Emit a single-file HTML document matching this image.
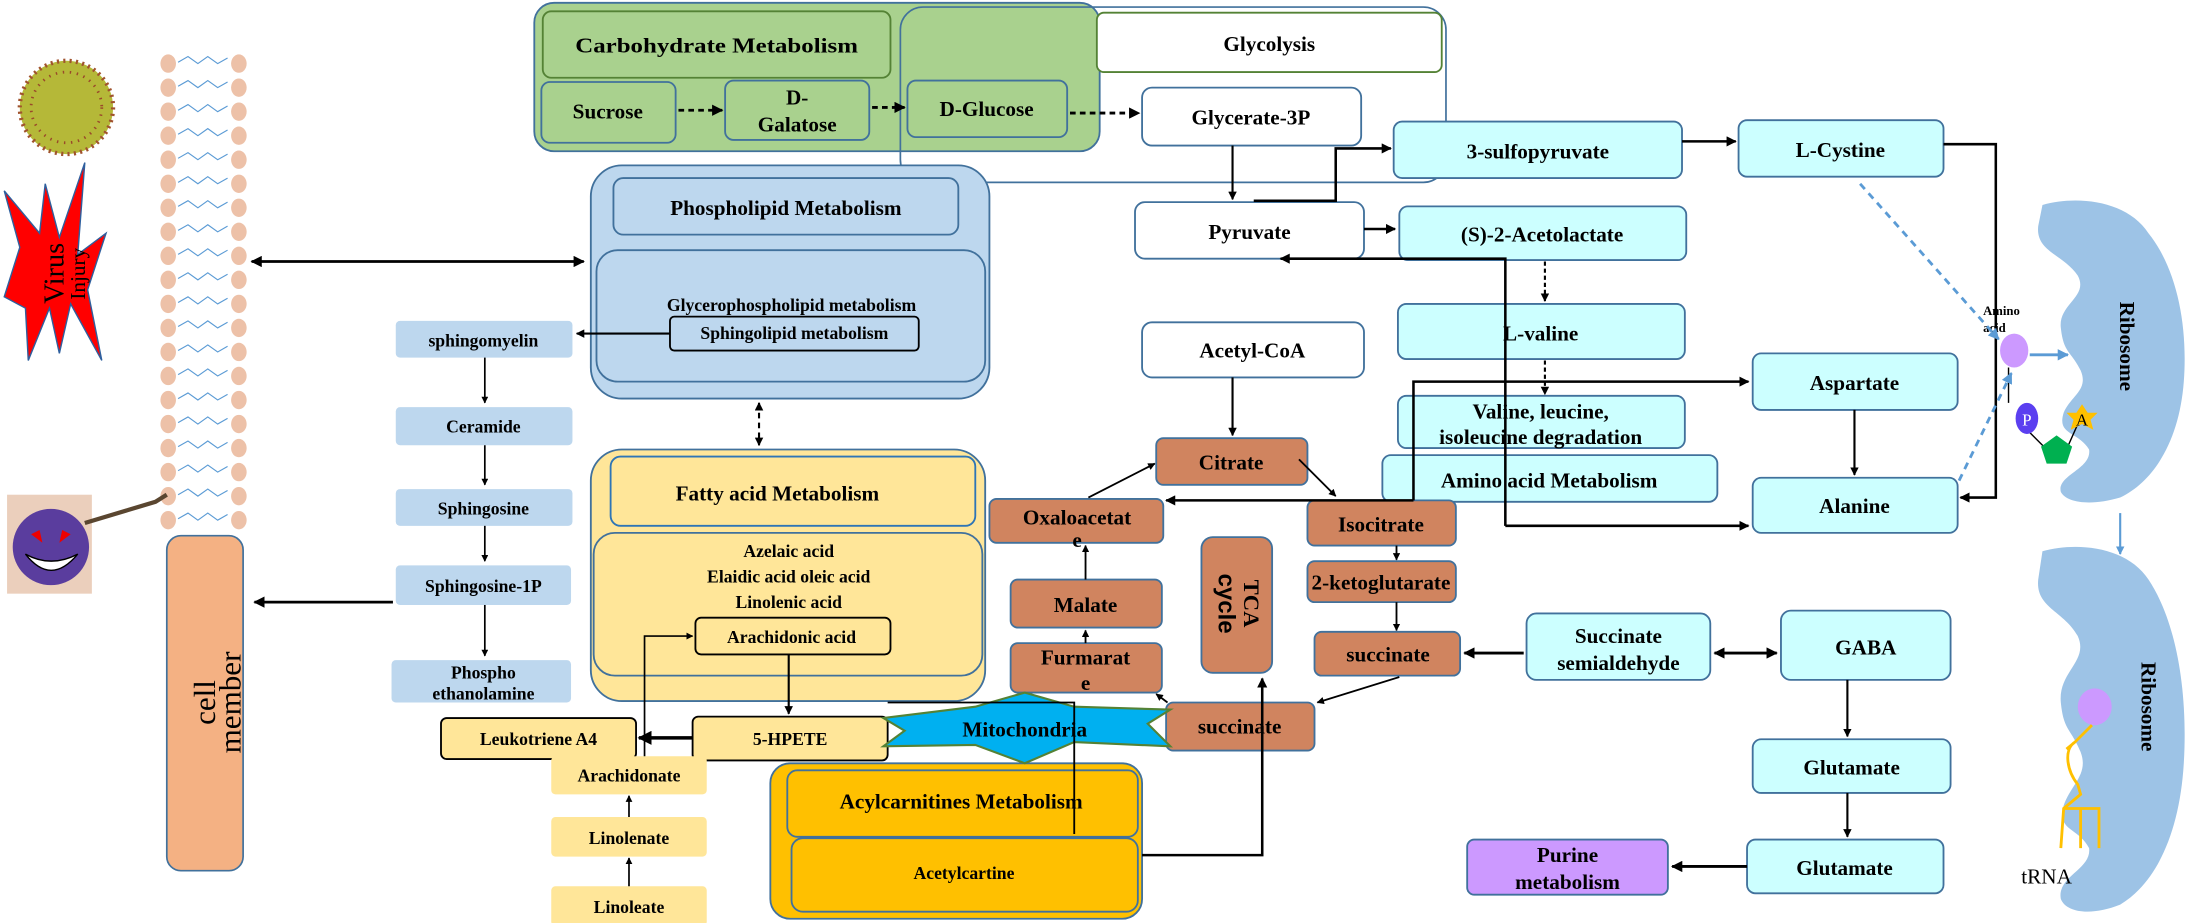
<!DOCTYPE html>
<html><head><meta charset="utf-8"><style>
html,body{margin:0;padding:0;background:#fff;}
svg{display:block}
text{font-family:"Liberation Serif",serif;font-weight:bold;fill:#000;}
</style></head><body>
<svg width="2205" height="923" viewBox="0 0 1560 653" xmlns="http://www.w3.org/2000/svg">
<defs>
<marker id="ah" viewBox="0 0 10 10" refX="9" refY="5" markerWidth="4" markerHeight="4" orient="auto-start-reverse"><path d="M0,0L10,5L0,10z" fill="#000"/></marker>
<marker id="ab" viewBox="0 0 10 10" refX="9" refY="5" markerWidth="4" markerHeight="4" orient="auto-start-reverse"><path d="M0,0L10,5L0,10z" fill="#5b9bd5"/></marker>
</defs>

<g fill="#edc1a8" stroke="none">
<ellipse cx="119" cy="45" rx="5.5" ry="6.5"/><ellipse cx="169" cy="45" rx="5.5" ry="6.5"/>
<ellipse cx="119" cy="62" rx="5.5" ry="6.5"/><ellipse cx="169" cy="62" rx="5.5" ry="6.5"/>
<ellipse cx="119" cy="79" rx="5.5" ry="6.5"/><ellipse cx="169" cy="79" rx="5.5" ry="6.5"/>
<ellipse cx="119" cy="96" rx="5.5" ry="6.5"/><ellipse cx="169" cy="96" rx="5.5" ry="6.5"/>
<ellipse cx="119" cy="113" rx="5.5" ry="6.5"/><ellipse cx="169" cy="113" rx="5.5" ry="6.5"/>
<ellipse cx="119" cy="130" rx="5.5" ry="6.5"/><ellipse cx="169" cy="130" rx="5.5" ry="6.5"/>
<ellipse cx="119" cy="147" rx="5.5" ry="6.5"/><ellipse cx="169" cy="147" rx="5.5" ry="6.5"/>
<ellipse cx="119" cy="164" rx="5.5" ry="6.5"/><ellipse cx="169" cy="164" rx="5.5" ry="6.5"/>
<ellipse cx="119" cy="181" rx="5.5" ry="6.5"/><ellipse cx="169" cy="181" rx="5.5" ry="6.5"/>
<ellipse cx="119" cy="198" rx="5.5" ry="6.5"/><ellipse cx="169" cy="198" rx="5.5" ry="6.5"/>
<ellipse cx="119" cy="215" rx="5.5" ry="6.5"/><ellipse cx="169" cy="215" rx="5.5" ry="6.5"/>
<ellipse cx="119" cy="232" rx="5.5" ry="6.5"/><ellipse cx="169" cy="232" rx="5.5" ry="6.5"/>
<ellipse cx="119" cy="249" rx="5.5" ry="6.5"/><ellipse cx="169" cy="249" rx="5.5" ry="6.5"/>
<ellipse cx="119" cy="266" rx="5.5" ry="6.5"/><ellipse cx="169" cy="266" rx="5.5" ry="6.5"/>
<ellipse cx="119" cy="283" rx="5.5" ry="6.5"/><ellipse cx="169" cy="283" rx="5.5" ry="6.5"/>
<ellipse cx="119" cy="300" rx="5.5" ry="6.5"/><ellipse cx="169" cy="300" rx="5.5" ry="6.5"/>
<ellipse cx="119" cy="317" rx="5.5" ry="6.5"/><ellipse cx="169" cy="317" rx="5.5" ry="6.5"/>
<ellipse cx="119" cy="334" rx="5.5" ry="6.5"/><ellipse cx="169" cy="334" rx="5.5" ry="6.5"/>
<ellipse cx="119" cy="351" rx="5.5" ry="6.5"/><ellipse cx="169" cy="351" rx="5.5" ry="6.5"/>
<ellipse cx="119" cy="368" rx="5.5" ry="6.5"/><ellipse cx="169" cy="368" rx="5.5" ry="6.5"/>
</g>
<g fill="none" stroke="#5b9bd5" stroke-width="0.8">
<path d="M126,44l7,-4l7,5l7,-5l7,5l7,-4"/><path d="M126,61l7,-4l7,5l7,-5l7,5l7,-4"/>
<path d="M126,78l7,-4l7,5l7,-5l7,5l7,-4"/><path d="M126,95l7,-4l7,5l7,-5l7,5l7,-4"/>
<path d="M126,112l7,-4l7,5l7,-5l7,5l7,-4"/><path d="M126,129l7,-4l7,5l7,-5l7,5l7,-4"/>
<path d="M126,146l7,-4l7,5l7,-5l7,5l7,-4"/><path d="M126,163l7,-4l7,5l7,-5l7,5l7,-4"/>
<path d="M126,180l7,-4l7,5l7,-5l7,5l7,-4"/><path d="M126,197l7,-4l7,5l7,-5l7,5l7,-4"/>
<path d="M126,214l7,-4l7,5l7,-5l7,5l7,-4"/><path d="M126,231l7,-4l7,5l7,-5l7,5l7,-4"/>
<path d="M126,248l7,-4l7,5l7,-5l7,5l7,-4"/><path d="M126,265l7,-4l7,5l7,-5l7,5l7,-4"/>
<path d="M126,282l7,-4l7,5l7,-5l7,5l7,-4"/><path d="M126,299l7,-4l7,5l7,-5l7,5l7,-4"/>
<path d="M126,316l7,-4l7,5l7,-5l7,5l7,-4"/><path d="M126,333l7,-4l7,5l7,-5l7,5l7,-4"/>
<path d="M126,350l7,-4l7,5l7,-5l7,5l7,-4"/><path d="M126,367l7,-4l7,5l7,-5l7,5l7,-4"/>
</g>

<circle cx="47" cy="76" r="33" fill="#b5b838"/>
<circle cx="47" cy="76" r="33" fill="none" stroke="#a0522d" stroke-width="3" stroke-dasharray="1.5 3"/>
<circle cx="47" cy="76" r="25" fill="none" stroke="#9a4a2a" stroke-width="2" stroke-dasharray="1 4"/>
<polygon points="60,115 55,180 75,165 62,205 72,255 50,215 42,250 35,218 20,255 18,218 3,210 14,175 3,135 28,165 32,130 42,168" fill="#ff0000" stroke="#2e5f9e" stroke-width="1"/>
<text transform="translate(45,215) rotate(-90)" font-size="20" style="font-weight:normal">Virus</text>
<text transform="translate(60,212) rotate(-90)" font-size="15" style="font-weight:normal">Injury</text>
<rect x="5" y="350" width="60" height="70" fill="#d8a07a" opacity="0.5"/>
<circle cx="36" cy="387" r="27" fill="#5a3d9e"/>
<path d="M18,392 Q36,415 55,392 Q36,402 18,392z" fill="#fff" stroke="#000"/>
<path d="M22,378l8,6l-2,-9z M50,378l-8,6l2,-9z" fill="#e00"/>
<path d="M60,370 L110,355 L118,350" stroke="#5a4630" stroke-width="3" fill="none"/>

<rect x="118" y="379" width="54" height="237" rx="10" fill="#f4b183" stroke="#41719c" stroke-width="1.2"/>
<text transform="translate(152,497) rotate(-90)" font-size="22" text-anchor="middle" style="font-weight:normal">cell</text>
<text transform="translate(165,497) rotate(-90)" font-size="22" text-anchor="middle" style="font-weight:normal" dy="5">member</text>

<rect x="378" y="2" width="400" height="105" rx="14" fill="#a9d18e" stroke="#41719c" stroke-width="1.3"/>
<rect x="384" y="8" width="246" height="47" rx="6" fill="#a9d18e" stroke="#548235" stroke-width="1.3"/>
<text x="507" y="37" font-size="15" text-anchor="middle" textLength="200" lengthAdjust="spacingAndGlyphs">Carbohydrate Metabolism</text>
<rect x="383" y="58" width="95" height="43" rx="6" fill="#a9d18e" stroke="#41719c" stroke-width="1.3"/>
<text x="430" y="84" font-size="15" text-anchor="middle">Sucrose</text>
<rect x="513" y="57" width="102" height="42" rx="6" fill="#a9d18e" stroke="#41719c" stroke-width="1.3"/>
<text x="564" y="74" font-size="15" text-anchor="middle">D-</text>
<text x="564" y="93" font-size="15" text-anchor="middle">Galatose</text>
<rect x="642" y="57" width="113" height="40" rx="6" fill="#a9d18e" stroke="#41719c" stroke-width="1.3"/>
<text x="698" y="82" font-size="15" text-anchor="middle">D-Glucose</text>
<rect x="637" y="5" width="386" height="124" rx="16" fill="none" stroke="#41719c" stroke-width="1.2"/>
<rect x="776" y="9" width="244" height="42" rx="5" fill="#fff" stroke="#548235" stroke-width="1.3"/>
<text x="898" y="36" font-size="15" text-anchor="middle">Glycolysis</text>
<rect x="808" y="62" width="155" height="41" rx="7" fill="#fff" stroke="#41719c" stroke-width="1.3"/>
<text x="885" y="88" font-size="15" text-anchor="middle">Glycerate-3P</text>
<rect x="803" y="143" width="162" height="40" rx="7" fill="#fff" stroke="#41719c" stroke-width="1.3"/>
<text x="884" y="169" font-size="15" text-anchor="middle">Pyruvate</text>
<rect x="808" y="228" width="157" height="39" rx="7" fill="#fff" stroke="#41719c" stroke-width="1.3"/>
<text x="886" y="253" font-size="15" text-anchor="middle">Acetyl-CoA</text>

<g fill="#ccffff" stroke="#41719c" stroke-width="1.3">
<rect x="986" y="86" width="204" height="40" rx="6"/>
<rect x="1230" y="85" width="145" height="40" rx="6"/>
<rect x="990" y="146" width="203" height="38" rx="6"/>
<rect x="989" y="215" width="203" height="39" rx="6"/>
<rect x="978" y="322" width="237" height="33" rx="6"/>
<rect x="989" y="280" width="203" height="37" rx="6"/>
<rect x="1240" y="250" width="145" height="40" rx="6"/>
<rect x="1240" y="338" width="145" height="39" rx="6"/>
<rect x="1080" y="434" width="130" height="47" rx="7"/>
<rect x="1260" y="432" width="120" height="49" rx="7"/>
<rect x="1240" y="523" width="140" height="38" rx="6"/>
<rect x="1236" y="594" width="139" height="38" rx="6"/>
</g>
<rect x="1038" y="594" width="142" height="39" rx="5" fill="#cc99ff" stroke="#41719c" stroke-width="1.3"/>
<g font-size="15" text-anchor="middle">
<text x="1088" y="112">3-sulfopyruvate</text>
<text x="1302" y="111">L-Cystine</text>
<text x="1091" y="171">(S)-2-Acetolactate</text>
<text x="1090" y="241">L-valine</text>
<text x="1090" y="296">Valine, leucine,</text>
<text x="1090" y="314">isoleucine degradation</text>
<text x="1096" y="345">Amino acid Metabolism</text>
<text x="1312" y="276">Aspartate</text>
<text x="1312" y="363">Alanine</text>
<text x="1145" y="455">Succinate</text>
<text x="1145" y="474">semialdehyde</text>
<text x="1320" y="463">GABA</text>
<text x="1310" y="548">Glutamate</text>
<text x="1305" y="619">Glutamate</text>
<text x="1109" y="610">Purine</text>
<text x="1109" y="629">metabolism</text>
</g>

<g fill="#d0845f" stroke="#41719c" stroke-width="1.3">
<rect x="818" y="310" width="107" height="33" rx="5"/>
<rect x="700" y="353" width="123" height="31" rx="5"/>
<rect x="925" y="354" width="105" height="32" rx="5"/>
<rect x="850" y="380" width="50" height="96" rx="8"/>
<rect x="715" y="410" width="107" height="34" rx="5"/>
<rect x="715" y="455" width="107" height="35" rx="5"/>
<rect x="925" y="397" width="105" height="29" rx="5"/>
<rect x="930" y="447" width="103" height="31" rx="5"/>
<rect x="825" y="497" width="105" height="34" rx="5"/>
</g>
<g font-size="15" text-anchor="middle">
<text x="871" y="332">Citrate</text>
<text x="762" y="371">Oxaloacetat</text>
<text x="762" y="387">e</text>
<text x="977" y="376">Isocitrate</text>
<text x="977" y="417">2-ketoglutarate</text>
<text x="982" y="468">succinate</text>
<text x="877" y="519">succinate</text>
<text x="768" y="433">Malate</text>
<text x="768" y="470">Furmarat</text>
<text x="768" y="488">e</text>
</g>
<text transform="translate(880,427) rotate(90)" font-size="16" text-anchor="middle">TCA</text>
<text transform="translate(862,427) rotate(90)" font-size="17" text-anchor="middle" style="font-family:'Liberation Sans',sans-serif">cycle</text>

<rect x="418" y="117" width="282" height="165" rx="22" fill="#bdd7ee" stroke="#41719c" stroke-width="1.3"/>
<rect x="434" y="126" width="244" height="40" rx="7" fill="#bdd7ee" stroke="#41719c" stroke-width="1.3"/>
<text x="556" y="152" font-size="15" text-anchor="middle">Phospholipid Metabolism</text>
<rect x="422" y="177" width="275" height="93" rx="15" fill="#bdd7ee" stroke="#41719c" stroke-width="1.3"/>
<text x="560" y="220" font-size="12.5" text-anchor="middle">Glycerophospholipid metabolism</text>
<rect x="474" y="224" width="176" height="24" rx="3" fill="#bdd7ee" stroke="#000" stroke-width="1.3"/>
<text x="562" y="240" font-size="12.5" text-anchor="middle">Sphingolipid metabolism</text>

<g fill="#bdd7ee">
<rect x="280" y="227" width="125" height="26" rx="3"/>
<rect x="280" y="288" width="125" height="27" rx="3"/>
<rect x="280" y="346" width="125" height="26" rx="3"/>
<rect x="280" y="400" width="124" height="28" rx="3"/>
<rect x="277" y="467" width="127" height="30" rx="3"/>
</g>
<g font-size="12.5" text-anchor="middle">
<text x="342" y="245">sphingomyelin</text>
<text x="342" y="306">Ceramide</text>
<text x="342" y="364">Sphingosine</text>
<text x="342" y="419">Sphingosine-1P</text>
<text x="342" y="480">Phospho</text>
<text x="342" y="495">ethanolamine</text>
</g>

<rect x="418" y="318" width="279" height="178" rx="22" fill="#ffe699" stroke="#41719c" stroke-width="1.3"/>
<rect x="432" y="323" width="258" height="49" rx="7" fill="#ffe699" stroke="#2e75b6" stroke-width="1.3"/>
<text x="550" y="354" font-size="15" text-anchor="middle">Fatty acid Metabolism</text>
<rect x="420" y="377" width="275" height="101" rx="15" fill="#ffe699" stroke="#41719c" stroke-width="1.3"/>
<g font-size="12.5" text-anchor="middle">
<text x="558" y="394">Azelaic acid</text>
<text x="558" y="412">Elaidic acid  oleic acid</text>
<text x="558" y="430">Linolenic acid</text>
</g>
<rect x="492" y="437" width="138" height="26" rx="4" fill="#ffe699" stroke="#000" stroke-width="1.3"/>
<text x="560" y="455" font-size="12.5" text-anchor="middle">Arachidonic acid</text>
<rect x="490" y="507" width="138" height="31" rx="4" fill="#ffe699" stroke="#000" stroke-width="1.3"/>
<text x="559" y="527" font-size="12.5" text-anchor="middle">5-HPETE</text>
<rect x="312" y="508" width="138" height="29" rx="4" fill="#ffe699" stroke="#000" stroke-width="1.3"/>
<text x="381" y="527" font-size="12.5" text-anchor="middle">Leukotriene A4</text>
<g fill="#ffe699">
<rect x="390" y="535" width="110" height="27" rx="3"/>
<rect x="390" y="578" width="110" height="28" rx="3"/>
<rect x="390" y="627" width="110" height="28" rx="3"/>
</g>
<g font-size="12.5" text-anchor="middle">
<text x="445" y="553">Arachidonate</text>
<text x="445" y="597">Linolenate</text>
<text x="445" y="646">Linoleate</text>
</g>

<rect x="545" y="540" width="263" height="110" rx="14" fill="#ffc000" stroke="#41719c" stroke-width="1.3"/>
<rect x="557" y="545" width="248" height="47" rx="7" fill="#ffc000" stroke="#41719c" stroke-width="1.3"/>
<text x="680" y="572" font-size="15" text-anchor="middle">Acylcarnitines Metabolism</text>
<rect x="560" y="593" width="245" height="52" rx="8" fill="#ffc000" stroke="#41719c" stroke-width="1.3"/>
<text x="682" y="622" font-size="12.5" text-anchor="middle">Acetylcartine</text>

<polygon points="625,508 690,500 725,490 760,500 828,502 812,512 828,528 760,525 725,540 690,527 625,528 640,517" fill="#00b0f0" stroke="#548235" stroke-width="1.5"/>
<text x="725" y="521" font-size="15" text-anchor="middle">Mitochondria</text>

<g stroke="#000" stroke-width="2" fill="none" marker-end="url(#ah)">
<path d="M178,185H413" marker-start="url(#ah)"/>
<path d="M474,236H408" stroke-width="1.5"/>
<path d="M343,253V285" stroke-width="1.2"/>
<path d="M343,315V343" stroke-width="1.2"/>
<path d="M343,372V397" stroke-width="1.2"/>
<path d="M343,428V464" stroke-width="1.2"/>
<path d="M278,426H180"/>
<path d="M537,285V315" stroke-dasharray="4 3" marker-start="url(#ah)" stroke-width="1.5"/>
<path d="M480,78H511" stroke-dasharray="4 3"/>
<path d="M617,76H640" stroke-dasharray="4 3"/>
<path d="M757,80H806" stroke-dasharray="4 3"/>
<path d="M872,103V141" stroke-width="1.5"/>
<path d="M887,142H945V105H984" stroke-width="1.8"/>
<path d="M965,162H987" stroke-width="1.8"/>
<path d="M1065,372V183H906" stroke-width="1.8"/>
<path d="M1065,372H1237" stroke-width="1.8"/>
<path d="M1000,354V270H1237" stroke-width="1.8"/>
<path d="M1000,354H825" stroke-width="1.8"/>
<path d="M1375,102H1412V352H1387" stroke-width="1.8"/>
<path d="M1190,100H1228" stroke-width="1.8"/>
<path d="M1093,185V213" stroke-dasharray="3 2" stroke-width="1.5"/>
<path d="M1093,255V279" stroke-dasharray="3 2" stroke-width="1.5"/>
<path d="M1312,290V336" stroke-width="1.5"/>
<path d="M872,267V308" stroke-width="1.5"/>
<path d="M919,325L945,351" stroke-width="1.3"/>
<path d="M988,386V396" stroke-width="1.3"/>
<path d="M988,426V446" stroke-width="1.3"/>
<path d="M990,479L932,497" stroke-width="1.3"/>
<path d="M1078,462H1036" stroke-width="2"/>
<path d="M1213,462H1257" stroke-width="2" marker-start="url(#ah)"/>
<path d="M1307,481V521" stroke-width="1.5"/>
<path d="M1307,561V592" stroke-width="1.5"/>
<path d="M1236,613H1183" stroke-width="2"/>
<path d="M808,605H893V480" stroke-width="1.8"/>
<path d="M826,497L818,491" stroke-width="1.3"/>
<path d="M768,455V446" stroke-width="1.3"/>
<path d="M768,410V386" stroke-width="1.3"/>
<path d="M770,352L817,328" stroke-width="1.3"/>
<path d="M558,463V505" stroke-width="1.5"/>
<path d="M490,522H452" stroke-width="2.5"/>
<path d="M456,535V450H490" stroke-width="1.2"/>
<path d="M445,627V607" stroke-width="1.2"/>
<path d="M445,578V563" stroke-width="1.2"/>
</g>
<path d="M628,497H760V590" stroke="#000" stroke-width="1.3" fill="none"/>

<path d="M1445,145 C1470,138 1505,142 1520,165 C1540,190 1548,230 1545,270 C1542,310 1525,340 1500,352 C1480,358 1462,356 1458,348 C1455,336 1480,332 1478,318 C1470,305 1455,308 1460,292 C1465,280 1478,276 1472,262 C1465,248 1460,250 1458,232 C1456,215 1478,210 1470,195 C1460,180 1440,178 1442,160z" fill="#9dc3e6"/>
<path d="M1445,390 C1470,383 1505,387 1520,410 C1540,440 1548,490 1545,540 C1542,590 1525,625 1500,640 C1480,648 1462,646 1458,636 C1455,620 1480,615 1478,600 C1470,585 1455,588 1460,570 C1465,555 1478,548 1472,532 C1465,515 1460,517 1458,497 C1456,475 1478,468 1470,450 C1460,432 1440,430 1442,410z" fill="#9dc3e6"/>
<text transform="translate(1500,245) rotate(90)" font-size="15" text-anchor="middle">Ribosome</text>
<text transform="translate(1515,500) rotate(90)" font-size="15" text-anchor="middle">Ribosome</text>
<text x="1403" y="223" font-size="9">Amino</text>
<text x="1403" y="235" font-size="9">acid</text>
<ellipse cx="1425" cy="248" rx="10" ry="12" fill="#cc99ff"/>
<path d="M1421,260V285 M1436,306L1448,318 M1462,318L1470,300" stroke="#000" stroke-width="1"/>
<ellipse cx="1434" cy="296" rx="8" ry="11" fill="#5b3ff0"/>
<text x="1434" y="301" font-size="12" text-anchor="middle" style="fill:#fff;font-weight:normal">P</text>
<polygon points="1455,308 1466,316 1462,328 1448,328 1444,316" fill="#00b050"/>
<polygon points="1473,286 1477,292 1484,292 1479,297 1481,304 1473,300 1465,304 1467,297 1462,292 1469,292" fill="#ffc000"/>
<text x="1473" y="301" font-size="12" text-anchor="middle" style="font-weight:normal">A</text>
<g stroke="#5b9bd5" stroke-width="2" fill="none" marker-end="url(#ab)">
<path d="M1316,130L1414,240" stroke-dasharray="5 4"/>
<path d="M1386,340L1423,264" stroke-dasharray="5 4"/>
<path d="M1436,251H1463"/>
<path d="M1500,363V392" stroke-width="1.5"/>
</g>
<ellipse cx="1482" cy="500" rx="12" ry="13" fill="#cc99ff"/>
<path d="M1480,513 L1468,525 C1460,530 1462,545 1470,555 L1472,562 L1460,572 L1458,600 M1460,572H1485V600 M1472,572V600 M1468,525 L1462,530" stroke="#ffc000" stroke-width="2" fill="none"/>
<text x="1430" y="625" font-size="15" style="font-weight:normal">tRNA</text>
</svg>
</body></html>
